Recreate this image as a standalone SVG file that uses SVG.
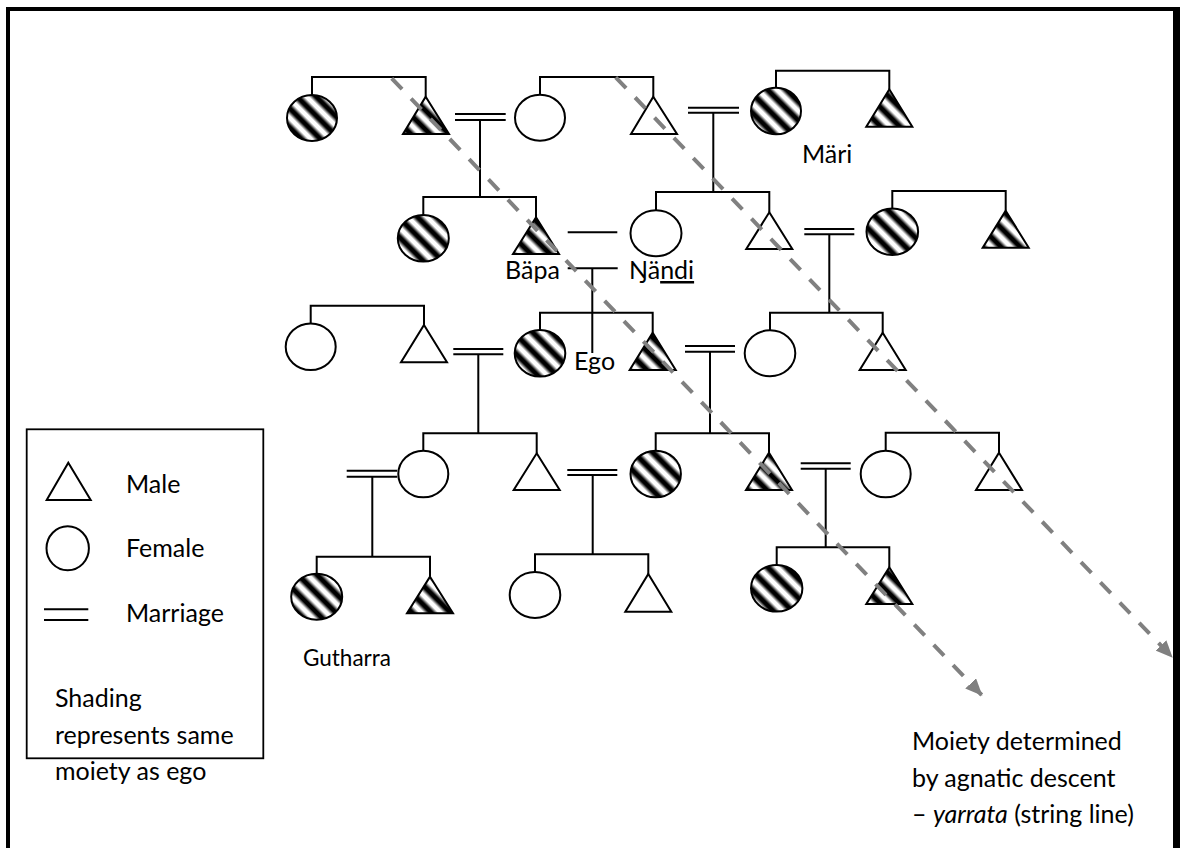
<svg xmlns="http://www.w3.org/2000/svg" width="1180" height="848" viewBox="0 0 1180 848">
<style>
.ln{fill:none;stroke:#000;stroke-width:2}
.op{fill:#fff;stroke:#000;stroke-width:2}
.ht{fill:url(#hatch);stroke:#000;stroke-width:2}
.t{font-family:Lato,"Open Sans","DejaVu Sans",sans-serif;font-size:25px;fill:#000}
.dash{fill:none;stroke:#808080;stroke-width:4;stroke-dasharray:15 13}
</style>
<defs>
<linearGradient id="sg" x1="0" y1="0" x2="1" y2="0">
<stop offset="0" stop-color="#fff"/>
<stop offset="0.12" stop-color="#fff"/>
<stop offset="0.38" stop-color="#000"/>
<stop offset="0.62" stop-color="#000"/>
<stop offset="0.88" stop-color="#fff"/>
<stop offset="1" stop-color="#fff"/>
</linearGradient>
<pattern id="hatch" patternUnits="userSpaceOnUse" width="13.5" height="13.5" patternTransform="rotate(-45)">
<rect width="13.5" height="13.5" fill="url(#sg)"/>
</pattern>
<marker id="ah" markerUnits="userSpaceOnUse" markerWidth="17" markerHeight="15" viewBox="0 0 17 15" refX="16" refY="7.5" orient="auto">
<path d="M0,0 L17,7.5 L0,15 z" fill="#808080"/>
</marker>
</defs>
<rect width="1180" height="848" fill="#fff"/>

<g id="connectors">
<path class="ln" d="M312,95 V77 H425.7 V96.7"/>
<path class="ln" d="M540,95 V77 H653.3 V96.7"/>
<path class="ln" d="M776,87.7 V70.7 H889.3 V89.3"/>
<path class="ln" d="M455,114 H505.7 M455,120 H505.7 M480,120 V197"/>
<path class="ln" d="M688,107.7 H739 M688,112.7 H739 M713.3,112.7 V192"/>
<path class="ln" d="M423.3,215 V197 H536 V217.3"/>
<path class="ln" d="M656,210.3 V192 H769.3 V212.3"/>
<path class="ln" d="M892.3,208.4 V191 H1005.7 V210.7"/>
<path class="ln" d="M567.7,232.3 H617.3"/>
<path class="ln" d="M567.7,268.3 H617.7 M592.3,268.3 V353"/>
<path class="ln" d="M804.3,229 H854.3 M804.3,234.3 H854.3 M829.3,234.3 V312.7"/>
<path class="ln" d="M310.7,323.4 V305.7 H424 V325"/>
<path class="ln" d="M540,330 V312.7 H652.7 V332.7"/>
<path class="ln" d="M770,330.3 V312.7 H882.7 V332.7"/>
<path class="ln" d="M453.3,349 H503.3 M453.3,354.3 H503.3 M478.3,354.3 V433.3"/>
<path class="ln" d="M685,346 H735 M685,351.7 H735 M710,351.7 V433.3"/>
<path class="ln" d="M423.3,450.7 V433.3 H536.7 V453.3"/>
<path class="ln" d="M655.7,450.7 V433.3 H769 V452.7"/>
<path class="ln" d="M885.7,450.7 V432.7 H999 V452.7"/>
<path class="ln" d="M346.7,470.7 H397.3 M346.7,476.7 H397.3 M372.3,476.7 V556.7"/>
<path class="ln" d="M567.3,470 H617.3 M567.3,475 H617.3 M592.7,475 V554.3"/>
<path class="ln" d="M800.7,463.3 H850.7 M800.7,468.7 H850.7 M825.7,468.7 V547.3"/>
<path class="ln" d="M316.7,574 V556.7 H430 V576.7"/>
<path class="ln" d="M535,572 V554.3 H648.3 V574"/>
<path class="ln" d="M776.7,565 V547.3 H889.3 V567.3"/>
</g>

<g id="n1"><ellipse class="ht" cx="312" cy="118" rx="25" ry="23"/></g>
<g id="n2"><polygon class="ht" points="425.7,96.7 449,134 403,134"/></g>
<g id="n3"><ellipse class="op" cx="540" cy="117.7" rx="25" ry="23"/></g>
<g id="n4"><polygon class="op" points="653.3,96.7 677,134 631,134"/></g>
<g id="n5-mari"><ellipse class="ht" cx="776" cy="111" rx="25" ry="23.3"/><text class="t" x="802" y="163">Märi</text></g>
<g id="n6"><polygon class="ht" points="889.3,89.3 912.3,126.7 866.3,126.7"/></g>

<g id="n7"><ellipse class="ht" cx="423.3" cy="238.3" rx="25.5" ry="23.3"/></g>
<g id="n8-bapa"><polygon class="ht" points="536,217.3 559,254 513,254"/><text class="t" x="505" y="279">Bäpa</text></g>
<g id="n9-nandi"><ellipse class="op" cx="656" cy="233.3" rx="25.5" ry="23"/><text class="t" x="629" y="279">Ŋä<tspan text-decoration="underline">ndi</tspan></text></g>
<g id="n10"><polygon class="op" points="769.3,212.3 792.3,249 746.3,249"/></g>
<g id="n11"><ellipse class="ht" cx="892.3" cy="231.7" rx="25.8" ry="23.3"/></g>
<g id="n12"><polygon class="ht" points="1005.7,210.7 1028.7,247.7 982.7,247.7"/></g>

<g id="n13"><ellipse class="op" cx="310.7" cy="346.7" rx="25" ry="23.3"/></g>
<g id="n14"><polygon class="op" points="424,325 447,362.3 401,362.3"/></g>
<g id="n15"><ellipse class="ht" cx="540" cy="353.3" rx="25.3" ry="23.3"/></g>
<g id="ego"><text class="t" x="574" y="370">Ego</text></g>
<g id="n16"><polygon class="ht" points="652.7,332.7 675.7,370 629.7,370"/></g>
<g id="n17"><ellipse class="op" cx="770" cy="353.3" rx="25.3" ry="23"/></g>
<g id="n18"><polygon class="op" points="882.7,332.7 905.7,370 859.7,370"/></g>

<g id="n19"><ellipse class="op" cx="423.3" cy="474" rx="25" ry="23.3"/></g>
<g id="n20"><polygon class="op" points="536.7,453.3 559.7,490 513.7,490"/></g>
<g id="n21"><ellipse class="ht" cx="655.7" cy="474" rx="25.2" ry="23.3"/></g>
<g id="n22"><polygon class="ht" points="769,452.7 792,490 746,490"/></g>
<g id="n23"><ellipse class="op" cx="885.7" cy="474" rx="25" ry="23.3"/></g>
<g id="n24"><polygon class="op" points="999,452.7 1022,490 976,490"/></g>

<g id="n25-gutharra"><ellipse class="ht" cx="316.7" cy="596.7" rx="25.5" ry="23"/><text class="t" x="303" y="666" style="font-size:22.5px">Gutharra</text></g>
<g id="n26"><polygon class="ht" points="430,576.7 453,613.3 407,613.3"/></g>
<g id="n27"><ellipse class="op" cx="535" cy="595" rx="25.3" ry="23"/></g>
<g id="n28"><polygon class="op" points="648.3,574 671.3,611.7 625.3,611.7"/></g>
<g id="n29"><ellipse class="ht" cx="776.7" cy="588.3" rx="25.7" ry="23.3"/></g>
<g id="n30"><polygon class="ht" points="889.3,567.3 912.3,604 866.3,604"/></g>

<g id="legend">
<rect x="26.7" y="429.3" width="236.6" height="329" fill="none" stroke="#000" stroke-width="1.8"/>
<polygon class="op" points="68.3,462.7 90.7,500 46.7,500"/>
<text class="t" x="126" y="493">Male</text>
<ellipse class="op" cx="67.7" cy="548.3" rx="21.2" ry="22"/>
<text class="t" x="126" y="557">Female</text>
<path class="ln" d="M44,609.3 H88.3 M44,620 H88.3"/>
<text class="t" x="126" y="622">Marriage</text>
<text class="t" x="55" y="707">Shading</text>
<text class="t" x="55" y="744">represents same</text>
<text class="t" x="55" y="780">moiety as ego</text>
</g>

<g id="descent-note">
<text class="t" x="912" y="750">Moiety determined</text>
<text class="t" x="912" y="787">by agnatic descent</text>
<text class="t" x="912" y="823">– <tspan font-style="italic">yarrata</tspan> (string line)</text>
</g>

<g id="descent-arrows">
<line class="dash" x1="391.7" y1="78.3" x2="981.7" y2="695" marker-end="url(#ah)"/>
<line class="dash" x1="615.7" y1="77.3" x2="1172" y2="657" marker-end="url(#ah)"/>
</g>

<g id="frame">
<path d="M8,848 V9 H1175" fill="none" stroke="#000" stroke-width="4"/>
<rect x="1173" y="7" width="7" height="841" fill="#000"/>
</g>
</svg>
